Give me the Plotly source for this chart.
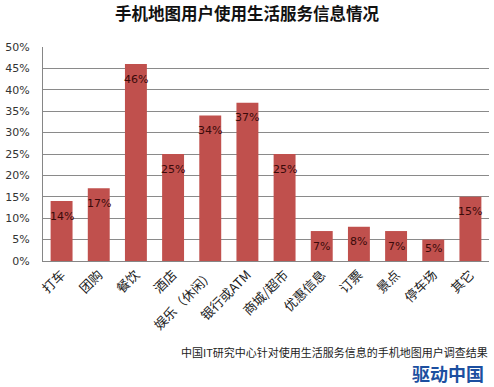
import plotly.graph_objects as go

categories = ["打车", "团购", "餐饮", "酒店", "娱乐（休闲）", "银行或ATM", "商城/超市",
              "优惠信息", "订票", "景点", "停车场", "其它"]
values = [0.14, 0.17, 0.46, 0.25, 0.34, 0.37, 0.25, 0.07, 0.08, 0.07, 0.05, 0.15]
labels = ["14%", "17%", "46%", "25%", "34%", "37%", "25%", "7%", "8%", "7%", "5%", "15%"]

fig = go.Figure()
fig.add_trace(go.Bar(x=categories, y=values, marker_color="#C0504D",
                     marker_line_width=0, hoverinfo="skip"))

for c, v, t in zip(categories, values, labels):
    fig.add_annotation(x=c, y=v, text=t, showarrow=False, yanchor="middle",
                       yshift=-15 if v >= 0.07 else -9,
                       font=dict(family="DejaVu Sans", size=11, color="#3a0a0a"))

fig.add_annotation(xref="paper", yref="paper", x=1.0, y=-0.425, xanchor="right",
                   yanchor="middle", showarrow=False, borderpad=0,
                   text="中国IT研究中心针对使用生活服务信息的手机地图用户调查结果",
                   font=dict(family="Noto Sans CJK SC", size=11, color="#222222"))
fig.add_annotation(xref="paper", yref="paper", x=0.99, y=-0.525, xanchor="right",
                   yanchor="middle", showarrow=False, text="<b>驱动中国</b>", borderpad=0,
                   font=dict(family="Noto Sans CJK SC", size=18, color="#1c4fa0"))

fig.update_layout(
    width=494, height=387,
    margin=dict(l=39, r=5, t=47, b=126),
    paper_bgcolor="white", plot_bgcolor="white",
    bargap=0.41,
    showlegend=False,
    title=dict(text="<b>手机地图用户使用生活服务信息情况</b>", x=0.5, xanchor="center",
               y=0.963, yanchor="middle",
               font=dict(family="Noto Sans CJK SC", size=16.5, color="#111111")),
    xaxis=dict(tickangle=-45, showline=True, linecolor="#868686", linewidth=1,
               tickfont=dict(family="Noto Sans CJK SC", size=13, color="#222222"),
               showgrid=False, ticks=""),
    yaxis=dict(range=[0, 0.5], dtick=0.05, tickformat=".0%", showgrid=True,
               gridcolor="#8a8a8a", gridwidth=1, showline=True, linecolor="#868686",
               linewidth=1, zeroline=False, ticklabelstandoff=10,
               tickfont=dict(family="DejaVu Sans", size=11, color="#333333")),
)

fig.write_html("out.html")
